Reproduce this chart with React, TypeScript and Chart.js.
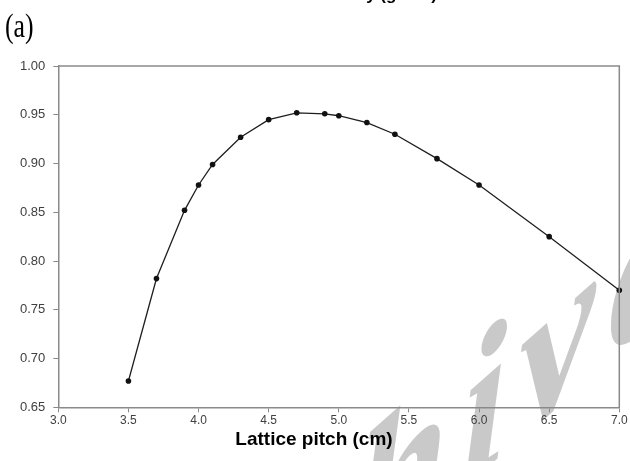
import { useEffect, useRef } from "react";
import { Chart, registerables } from "chart.js";

Chart.register(...registerables);

// Lattice pitch (cm) and infinite multiplication factor
const pitch = [3.5, 3.7, 3.9, 4.0, 4.1, 4.3, 4.5, 4.7, 4.9, 5.0, 5.2, 5.4, 5.7, 6.0, 6.5, 7.0];
const kInf = [0.677, 0.782, 0.852, 0.878, 0.899, 0.927, 0.945, 0.952, 0.951, 0.949, 0.942, 0.93, 0.905, 0.878, 0.825, 0.77];

const xTicks = [3.0, 3.5, 4.0, 4.5, 5.0, 5.5, 6.0, 6.5, 7.0];
const yTicks = [0.65, 0.7, 0.75, 0.8, 0.85, 0.9, 0.95, 1.0];

const xTitle = "Lattice pitch (cm)";
const topTitle = "Density (g/cm³)";
const panelLabel = "(a)";
const watermark = "hive";

const AXIS = "#8a8a8a";
const SANS = "'Liberation Sans', Arial, sans-serif";

const decorations = {
  id: "decorations",
  beforeDraw(chart: Chart) {
    const { ctx, width, height } = chart;
    ctx.save();
    ctx.fillStyle = "#ffffff";
    ctx.fillRect(0, 0, width, height);
    // faint diagonal watermark (upright letters on a rising baseline)
    ctx.setTransform(0.85, -0.75, 0, 1, 354, 585);
    ctx.fillStyle = "#c9c9c9";
    ctx.font = "italic bold 200px 'Liberation Serif', serif";
    (ctx as any).letterSpacing = "14px";
    ctx.textBaseline = "alphabetic";
    ctx.fillText(watermark, 0, 0);
    ctx.restore();
  },
  afterDraw(chart: Chart) {
    const { ctx, chartArea } = chart;
    ctx.save();
    // frame on top and right
    ctx.strokeStyle = AXIS;
    ctx.lineWidth = 1.5;
    ctx.beginPath();
    ctx.moveTo(chartArea.left, chartArea.top);
    ctx.lineTo(chartArea.right, chartArea.top);
    ctx.lineTo(chartArea.right, chartArea.bottom);
    ctx.stroke();

    // x-axis title
    ctx.fillStyle = "#000000";
    ctx.font = `bold 19px ${SANS}`;
    ctx.textAlign = "center";
    ctx.textBaseline = "alphabetic";
    ctx.fillText(xTitle, 314, 445);

    // heading above, cut off by the top edge
    ctx.font = `bold 17px ${SANS}`;
    ctx.textAlign = "right";
    ctx.fillText(topTitle, 437, -0.5);

    // panel label
    ctx.translate(5, 37);
    ctx.scale(0.86, 1.1);
    ctx.font = "30px 'Liberation Serif', 'Times New Roman', serif";
    ctx.textAlign = "left";
    ctx.fillText(panelLabel, 0, 0);
    ctx.restore();
  },
};

export default function App() {
  const canvasRef = useRef<HTMLCanvasElement | null>(null);

  useEffect(() => {
    const canvas = canvasRef.current;
    if (!canvas) return;
    const chart = new Chart(canvas, {
      type: "line",
      data: {
        datasets: [
          {
            data: pitch.map((p, i) => ({ x: p, y: kInf[i] })),
            borderColor: "#1e1e1e",
            borderWidth: 1.3,
            pointRadius: 2.8,
            pointBackgroundColor: "#111111",
            pointBorderWidth: 0,
            tension: 0,
            clip: false,
          },
        ],
      },
      plugins: [decorations],
      options: {
        animation: false,
        responsive: false,
        maintainAspectRatio: false,
        layout: { padding: { left: 0, top: 66, right: 10.7, bottom: 0 } },
        plugins: { legend: { display: false }, tooltip: { enabled: false }, title: { display: false } },
        scales: {
          x: {
            type: "linear",
            min: 3.0,
            max: 7.0,
            afterFit: (s: any) => {
              s.height = 53.7;
            },
            afterBuildTicks: (s: any) => {
              s.ticks = xTicks.map((v) => ({ value: v }));
            },
            border: { display: true, color: AXIS, width: 1.5 },
            grid: { drawOnChartArea: false, drawTicks: true, tickLength: 5, color: AXIS, lineWidth: 1 },
            ticks: {
              padding: 1,
              color: "#404040",
              font: { family: SANS, size: 12 },
              maxRotation: 0,
              autoSkip: false,
              callback: (v: any) => Number(v).toFixed(1),
            },
          },
          y: {
            type: "linear",
            min: 0.65,
            max: 1.0,
            afterFit: (s: any) => {
              s.width = 58.3;
            },
            afterBuildTicks: (s: any) => {
              s.ticks = yTicks.map((v) => ({ value: v }));
            },
            border: { display: true, color: AXIS, width: 1.5 },
            grid: { drawOnChartArea: false, drawTicks: true, tickLength: 5, color: AXIS, lineWidth: 1 },
            ticks: {
              padding: 8,
              color: "#404040",
              font: { family: SANS, size: 13 },
              autoSkip: false,
              callback: (v: any) => Number(v).toFixed(2),
            },
          },
        },
      },
    });
    return () => chart.destroy();
  }, []);

  return (
    <div style={{ position: "fixed", left: 0, top: 0, width: 630, height: 461, background: "#fff" }}>
      <canvas ref={canvasRef} width={630} height={461} style={{ width: 630, height: 461, display: "block" }} />
    </div>
  );
}
